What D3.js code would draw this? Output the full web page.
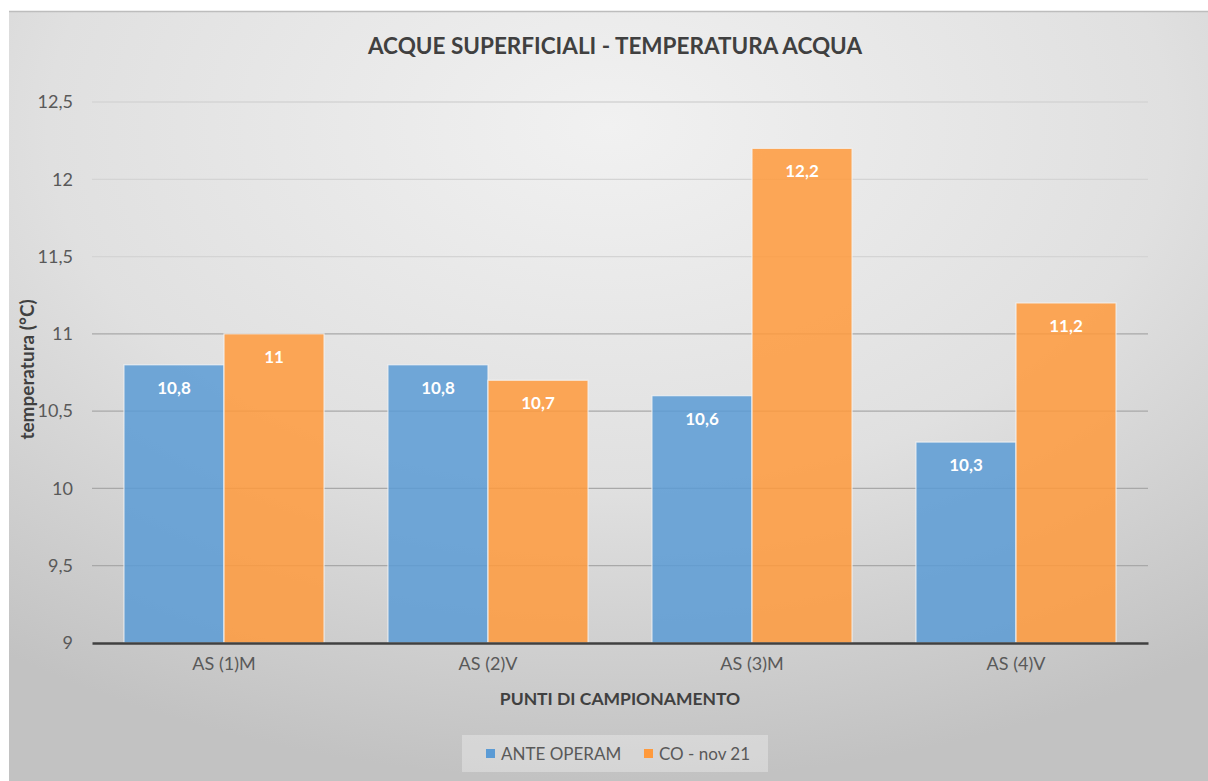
<!DOCTYPE html>
<html>
<head>
<meta charset="utf-8">
<script src="https://cdn.jsdelivr.net/npm/d3@7"></script>
<style>
  body { margin: 0; background: #fff; }
  text { font-family: Lato, "Open Sans", sans-serif; }
</style>
</head>
<body>
<div id="chart"></div>
<script>
const categories = ["AS (1)M", "AS (2)V", "AS (3)M", "AS (4)V"];
const seriesNames = ["ANTE OPERAM", "CO - nov 21"];
const anteOperam = [10.8, 10.8, 10.6, 10.3];
const coNov21 = [11, 10.7, 12.2, 11.2];
const yTicks = [9, 9.5, 10, 10.5, 11, 11.5, 12, 12.5];

const colors = ["#5b9bd5", "#ff9a3c"];

const width = 1208, height = 781;
const margin = { top: 102, right: 60, bottom: 138, left: 92 };

const svg = d3.select("#chart")
  .append("svg")
    .attr("width", width)
    .attr("height", height);

// background gradient
const defs = svg.append("defs");
const grad = defs.append("radialGradient")
  .attr("id", "bg")
  .attr("cx", "50%").attr("cy", "15%").attr("r", "85%");
grad.append("stop").attr("offset", "0%").attr("stop-color", "#f1f1f1");
grad.append("stop").attr("offset", "55%").attr("stop-color", "#e0e0e0");
grad.append("stop").attr("offset", "100%").attr("stop-color", "#c2c2c2");

svg.append("rect")
  .attr("x", 9).attr("y", 11)
  .attr("width", width - 9).attr("height", height - 11)
  .attr("fill", "url(#bg)");
svg.append("line")
  .attr("x1", 9).attr("x2", width).attr("y1", 11.5).attr("y2", 11.5)
  .attr("stroke", "#bdbdbd").attr("stroke-width", 1.5);

const x0 = d3.scaleBand()
  .domain(categories)
  .range([margin.left, width - margin.right])
  .paddingInner(0.242)
  .paddingOuter(0.121);

const x1 = d3.scaleBand()
  .domain(seriesNames)
  .range([0, x0.bandwidth()]);

const y = d3.scaleLinear()
  .domain([9, 12.5])
  .range([height - margin.bottom, margin.top]);

// gridlines
svg.append("g")
  .selectAll("line")
  .data(yTicks.slice(1))
  .enter()
  .append("line")
    .attr("x1", margin.left)
    .attr("x2", width - margin.right)
    .attr("y1", d => y(d))
    .attr("y2", d => y(d))
    .attr("stroke", d => d >= 11.5 ? "#d4d4d4" : "#a8a8a8")
    .attr("stroke-width", 1.3);

// y tick labels
const yAxis = svg.append("g")
  .attr("transform", "translate(" + margin.left + ",0)")
  .call(d3.axisLeft(y).tickValues(yTicks).tickSize(0).tickPadding(19)
    .tickFormat(d => String(d).replace(".", ",")));
yAxis.select(".domain").remove();
yAxis.selectAll("text")
  .attr("fill", "#595959")
  .style("font-size", "18px");

// bars
const data = categories.map((c, i) => ({ cat: c, values: [anteOperam[i], coNov21[i]] }));

const groups = svg.append("g")
  .selectAll("g")
  .data(data)
  .enter()
  .append("g")
    .attr("transform", d => "translate(" + x0(d.cat) + ",0)");

groups.selectAll("rect")
  .data(d => d.values.map((v, j) => ({ key: seriesNames[j], value: v, j: j })))
  .enter()
  .append("rect")
    .attr("x", d => x1(d.key))
    .attr("y", d => y(d.value))
    .attr("width", x1.bandwidth())
    .attr("height", d => y(9) - y(d.value))
    .attr("fill", d => colors[d.j])
    .attr("fill-opacity", 0.85)
    .attr("stroke", "#f4f4f4")
    .attr("stroke-opacity", 0.8)
    .attr("stroke-width", 1.2);

groups.selectAll("text")
  .data(d => d.values.map((v, j) => ({ key: seriesNames[j], value: v })))
  .enter()
  .append("text")
    .attr("x", d => x1(d.key) + x1.bandwidth() / 2)
    .attr("y", d => y(d.value) + 29)
    .attr("text-anchor", "middle")
    .attr("fill", "#ffffff")
    .style("font-size", "17px")
    .style("font-weight", "bold")
    .text(d => String(d.value).replace(".", ","));

// x axis
const xAxis = svg.append("g")
  .attr("transform", "translate(0," + y(9) + ")")
  .call(d3.axisBottom(x0).tickSize(0).tickPadding(14));
xAxis.select(".domain")
  .attr("stroke", "#404040")
  .attr("stroke-width", 2.5);
xAxis.selectAll("text")
  .attr("fill", "#595959")
  .style("font-size", "18px");

// titles
svg.append("text")
  .attr("x", 615).attr("y", 54)
  .attr("text-anchor", "middle")
  .attr("fill", "#404040")
  .style("font-size", "22.5px")
  .style("font-weight", "bold")
  .text("ACQUE SUPERFICIALI - TEMPERATURA ACQUA");

svg.append("text")
  .attr("x", 620).attr("y", 705)
  .attr("text-anchor", "middle")
  .attr("fill", "#404040")
  .style("font-size", "17.5px")
  .style("font-weight", "bold")
  .text("PUNTI DI CAMPIONAMENTO");

svg.append("text")
  .attr("transform", "translate(34," + y(10.77) + ") rotate(-90)")
  .attr("text-anchor", "middle")
  .attr("fill", "#404040")
  .style("font-size", "19px")
  .style("font-weight", "bold")
  .text("temperatura (°C)");

// legend
svg.append("rect")
  .attr("x", 462).attr("y", 735)
  .attr("width", 306).attr("height", 37)
  .attr("fill", "#ffffff").attr("fill-opacity", 0.3);

const legendX = [486, 644];
const legend = svg.append("g")
  .selectAll("g")
  .data(seriesNames)
  .enter()
  .append("g")
    .attr("transform", (d, i) => "translate(" + legendX[i] + ",753.5)");
legend.append("rect")
  .attr("x", 0).attr("y", -4.5)
  .attr("width", 9).attr("height", 9)
  .attr("fill", (d, i) => colors[i]);
legend.append("text")
  .attr("x", 15).attr("y", 6)
  .attr("fill", "#595959")
  .style("font-size", "17px")
  .text(d => d);
</script>
</body>
</html>
